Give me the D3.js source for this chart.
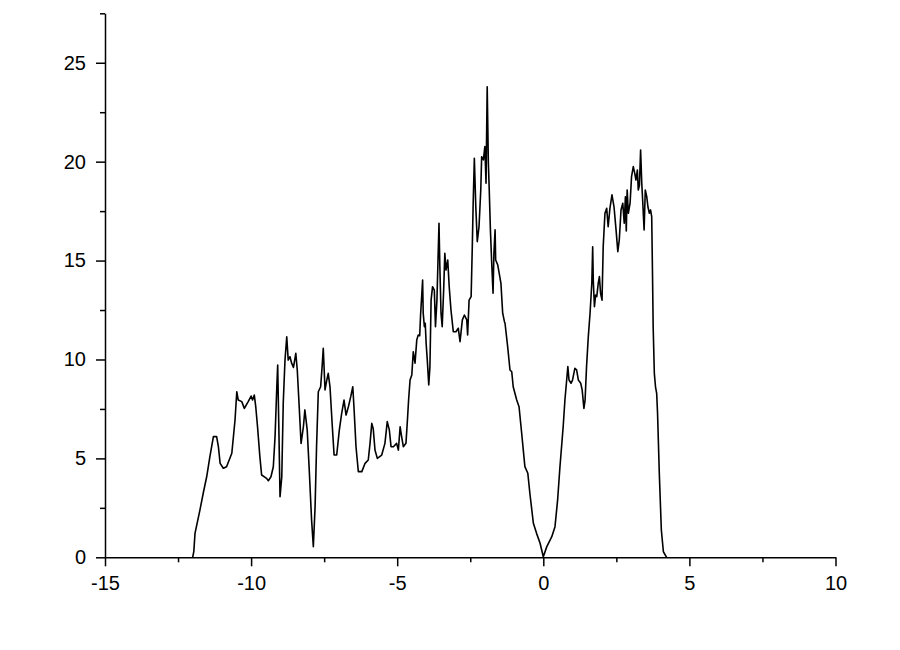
<!DOCTYPE html>
<html>
<head>
<meta charset="utf-8">
<script src="https://cdn.jsdelivr.net/npm/d3@7"></script>
<style>
  html, body { margin: 0; padding: 0; background: #fff; }
  svg { display: block; }
  text { font-family: "Liberation Sans", Arial, sans-serif; }
</style>
</head>
<body>
<svg id="chart" width="900" height="650"></svg>
<script>
// ---- data ----
const xValues = [
  -12.00, -11.96, -11.92, -11.75, -11.63, -11.52, -11.41, -11.29, -11.18, -11.12,
  -11.06, -10.95, -10.84, -10.66, -10.55, -10.49, -10.44, -10.32, -10.23, -10.10,
  -10.00, -9.95, -9.89, -9.84, -9.78, -9.70, -9.64, -9.47, -9.41, -9.32,
  -9.24, -9.18, -9.12, -9.09, -9.05, -9.01, -8.95, -8.90, -8.84, -8.78,
  -8.73, -8.67, -8.61, -8.55, -8.47, -8.42, -8.36, -8.29, -8.21,
  -8.16, -8.08, -8.01, -7.93, -7.87, -7.81, -7.76, -7.70, -7.62, -7.57,
  -7.53, -7.47, -7.41, -7.36, -7.30, -7.22, -7.16, -7.07, -6.98, -6.90,
  -6.82, -6.75, -6.67, -6.59, -6.52, -6.48, -6.41, -6.33, -6.21, -6.10,
  -5.99, -5.93, -5.87, -5.82, -5.76, -5.68, -5.53, -5.42, -5.34, -5.27,
  -5.21, -5.13, -5.02, -4.96, -4.90, -4.86, -4.79, -4.70, -4.65,
  -4.61, -4.56, -4.50, -4.45, -4.39, -4.33, -4.28, -4.23, -4.20, -4.13,
  -4.11, -4.07, -4.04, -4.01, -3.97, -3.92, -3.88, -3.84, -3.79, -3.73,
  -3.69, -3.64, -3.57, -3.54, -3.50, -3.46, -3.41, -3.37, -3.33, -3.27,
  -3.22, -3.16, -3.08,
  -2.99, -2.91, -2.85, -2.77, -2.70, -2.62, -2.59, -2.54, -2.47, -2.43,
  -2.40, -2.36, -2.31, -2.26, -2.20, -2.14, -2.11, -2.05, -2.00, -1.96,
  -1.92, -1.88, -1.85, -1.81, -1.77, -1.72, -1.69, -1.65, -1.63, -1.56,
  -1.51, -1.45, -1.39, -1.33,
  -1.31, -1.22, -1.14, -1.08, -1.03, -0.91, -0.83, -0.74, -0.63, -0.53,
  -0.46, -0.34, -0.23, -0.11, 0.00, 0.12, 0.29, 0.40, 0.49, 0.57,
  0.68, 0.74, 0.80, 0.84, 0.88, 0.95,
  1.00, 1.08, 1.14, 1.20, 1.28, 1.33, 1.39, 1.43, 1.48, 1.54,
  1.60, 1.66, 1.69, 1.71, 1.75, 1.79, 1.83, 1.88, 1.92, 1.96,
  2.01, 2.05, 2.11, 2.17, 2.22, 2.28, 2.35, 2.42, 2.49, 2.55,
  2.60, 2.66, 2.72, 2.77,
  2.81, 2.84, 2.87, 2.91, 2.97, 3.02, 3.08, 3.13, 3.17, 3.22,
  3.25, 3.29, 3.33, 3.37, 3.40, 3.45, 3.49, 3.54, 3.58, 3.63,
  3.67, 3.71, 3.74, 3.76, 3.80, 3.84, 3.88, 3.91, 3.97, 4.04,
  4.11, 4.22
];
const yValues = [
  0.00, 0.30, 1.21, 2.40, 3.30, 4.07, 5.09, 6.10, 6.10, 5.60,
  4.75, 4.50, 4.58, 5.26, 6.94, 8.37, 7.95, 7.87, 7.53, 7.87,
  8.15, 7.95, 8.20, 7.60, 6.60, 5.09, 4.16, 3.99, 3.87, 4.07,
  4.58, 6.10, 8.62, 9.72, 6.50, 3.06, 4.07, 7.79, 9.97, 11.15,
  9.97, 10.14, 9.80, 9.60, 10.31, 9.47, 7.79, 5.76, 6.60,
  7.45, 6.44, 4.41, 1.89, 0.54, 2.56, 5.59, 8.37, 8.62, 9.64,
  10.57, 8.46, 8.96, 9.30, 8.62, 6.60, 5.17, 5.17, 6.44, 7.28,
  7.95, 7.19, 7.61, 8.12, 8.62, 7.61, 5.59, 4.33, 4.33, 4.75,
  4.92, 5.76, 6.77, 6.50, 5.42, 5.00, 5.17, 5.76, 6.86, 6.44,
  5.59, 5.59, 5.76, 5.42, 6.60, 6.20, 5.59, 5.76, 6.94,
  7.95, 8.96, 9.22, 10.39, 9.81, 10.99, 11.24, 11.20, 12.25, 14.02,
  12.34, 11.66, 11.83, 10.82, 9.97, 8.71, 9.64, 13.00, 13.68, 13.51,
  11.66, 13.00, 16.89, 14.69, 12.34, 11.66, 13.51, 15.37, 14.52, 15.03,
  13.68, 12.50, 11.41,
  11.40, 11.58, 10.90, 12.00, 12.25, 12.00, 11.24, 13.00, 13.18, 15.70,
  17.90, 20.17, 17.72, 15.96, 16.71, 18.57, 20.25, 20.09, 20.76, 18.91,
  23.79, 19.92, 18.57, 16.55, 15.03, 13.35, 15.37, 16.55, 15.03, 14.78,
  14.36, 13.85, 12.34, 11.91,
  11.83, 10.65, 9.47, 9.38, 8.62, 7.95, 7.61, 6.27, 4.58, 4.25,
  3.24, 1.72, 1.21, 0.71, 0.03, 0.54, 1.04, 1.55, 2.90, 4.58,
  6.60, 7.95, 8.96, 9.64, 8.96, 8.80,
  8.96, 9.55, 9.47, 8.96, 8.80, 8.46, 7.53, 7.95, 9.64, 11.15,
  12.34, 13.85, 15.70, 14.02, 12.67, 13.26, 13.18, 13.85, 14.19, 13.35,
  13.00, 15.70, 17.39, 17.64, 16.71, 17.64, 18.32, 17.72, 16.55, 15.45,
  16.04, 17.56, 17.90, 16.89,
  18.23, 16.50, 18.57, 17.39, 17.90, 19.24, 19.75, 19.41, 19.07, 19.58,
  18.57, 18.80, 20.59, 18.91, 18.06, 16.55, 18.57, 18.23, 17.72, 17.39,
  17.56, 17.22, 14.02, 11.66, 9.30, 8.62, 8.29, 7.28, 4.25, 1.38,
  0.28, 0.00
];
const xMajorTicks = [-15, -10, -5, 0, 5, 10];
const xMinorTicks = [-12.5, -7.5, -2.5, 2.5, 7.5];
const yMajorTicks = [0, 5, 10, 15, 20, 25];
const yMinorTicks = [2.5, 7.5, 12.5, 17.5, 22.5, 27.5];
const xDomain = [-15, 10];
const yDomain = [0, 27.5];

// ---- chart ----
(function () {
  const svg = d3.select("#chart");
  const plotLeft = 105, plotRight = 835.5, plotTop = 13.3, plotBottom = 557.3;

  const x = d3.scaleLinear().domain(xDomain).range([plotLeft, plotRight]);
  const y = d3.scaleLinear().domain(yDomain).range([plotBottom, plotTop]);

  const data = xValues.map((v, i) => [v, yValues[i]]);

  function styleAxis(g) {
    g.selectAll("path.domain").attr("stroke", "#000").attr("stroke-width", 1.5);
    g.selectAll(".tick line").attr("stroke", "#000").attr("stroke-width", 1.5);
    g.selectAll(".tick text")
      .attr("fill", "#000")
      .style("font-family", '"Liberation Sans", Arial, sans-serif')
      .style("font-size", "20px");
  }

  // x axis minor
  svg.append("g")
    .attr("transform", `translate(0,${plotBottom})`)
    .call(d3.axisBottom(x).tickValues(xMinorTicks).tickSize(5).tickSizeOuter(0).tickFormat(""))
    .call(styleAxis)
    .call(g => g.select("path.domain").remove());

  // x axis major
  svg.append("g")
    .attr("transform", `translate(0,${plotBottom})`)
    .call(d3.axisBottom(x).tickValues(xMajorTicks).tickSize(9).tickSizeOuter(0).tickPadding(10)
          .tickFormat(d => String(d)))
    .call(styleAxis);

  // y axis minor
  svg.append("g")
    .attr("transform", `translate(${plotLeft},0)`)
    .call(d3.axisLeft(y).tickValues(yMinorTicks).tickSize(5).tickSizeOuter(0).tickFormat(""))
    .call(styleAxis)
    .call(g => g.select("path.domain").remove());

  // y axis major
  svg.append("g")
    .attr("transform", `translate(${plotLeft},0)`)
    .call(d3.axisLeft(y).tickValues(yMajorTicks).tickSize(9).tickSizeOuter(0).tickPadding(10)
          .tickFormat(d => String(d)))
    .call(styleAxis);

  // line
  const line = d3.line().x(d => x(d[0])).y(d => y(d[1]));
  svg.append("path")
    .datum(data)
    .attr("fill", "none")
    .attr("stroke", "#000")
    .attr("stroke-width", 1.6)
    .attr("stroke-linejoin", "round")
    .attr("d", line);
})();
</script>
</body>
</html>
